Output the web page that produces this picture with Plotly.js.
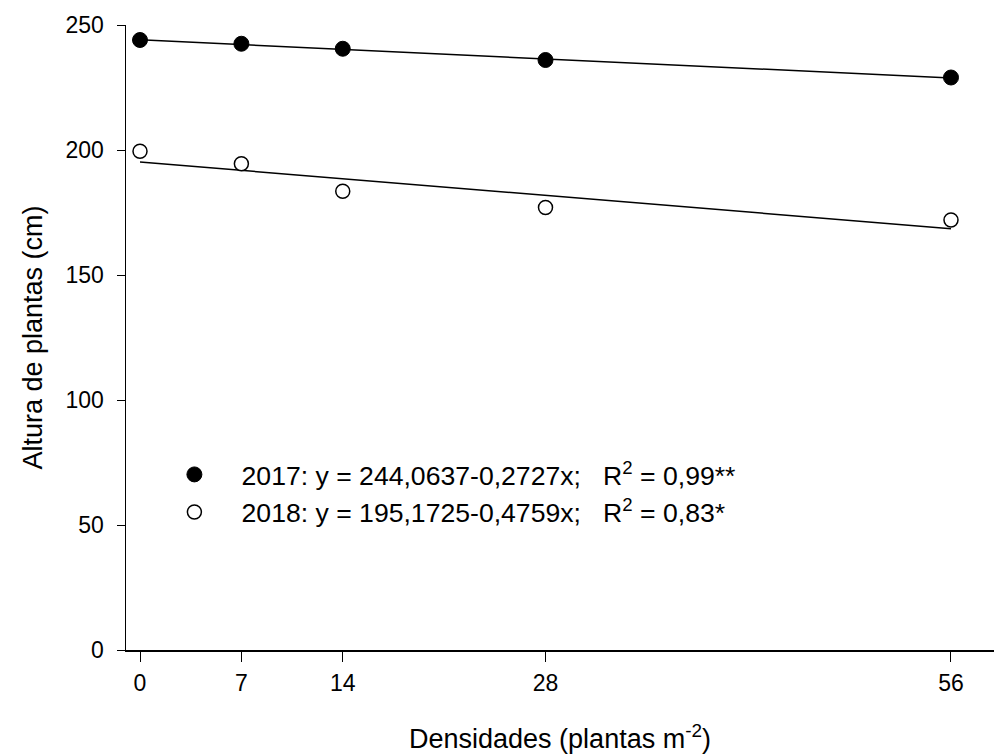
<!DOCTYPE html>
<html>
<head>
<meta charset="utf-8">
<script src="https://cdn.plot.ly/plotly-3.0.1.min.js"></script>
<style>html,body{margin:0;padding:0;background:#fff;}#chart{width:994px;height:754px;}</style>
</head>
<body>
<div id="chart"></div>
<script>
// Data
const densidades = [0, 7, 14, 28, 56];
const altura2017 = [244.0, 242.5, 240.5, 236.0, 229.0];
const altura2018 = [199.5, 194.5, 183.5, 177.0, 172.0];
// Regression coefficients (from the equations shown)
const fit2017 = {a: 244.0637, b: -0.2727};
const fit2018 = {a: 195.1725, b: -0.4759};
const fitX = [0, 56];
const xTicks = [0, 7, 14, 28, 56];
const yTicks = [0, 50, 100, 150, 200, 250];
const label2017 = '2017: y = 244,0637-0,2727x;   R<sup>2</sup> = 0,99**';
const label2018 = '2018: y = 195,1725-0,4759x;   R<sup>2</sup> = 0,83*';

const FONT = 'Arial, "Liberation Sans", sans-serif';
const PAD = '\u00a0\u00a0\u00a0';

const traces = [
  {x: fitX, y: fitX.map(v => fit2017.a + fit2017.b * v), mode: 'lines',
   line: {color: '#000', width: 1.5}, showlegend: false, hoverinfo: 'skip'},
  {x: fitX, y: fitX.map(v => fit2018.a + fit2018.b * v), mode: 'lines',
   line: {color: '#000', width: 1.5}, showlegend: false, hoverinfo: 'skip'},
  {x: densidades, y: altura2017, mode: 'markers', name: PAD + label2017, legendgroup: 'a',
   marker: {symbol: 'circle', size: 15, color: '#000', line: {color: '#000', width: 1}}},
  {x: densidades, y: altura2018, mode: 'markers', name: PAD + label2018, legendgroup: 'b',
   marker: {symbol: 'circle', size: 14, color: '#fff', line: {color: '#000', width: 1.5}}}
];

const layout = {
  width: 994, height: 754,
  margin: {l: 126, r: 0, t: 25, b: 104},
  paper_bgcolor: '#fff', plot_bgcolor: '#fff',
  font: {family: FONT, color: '#000', size: 23},
  showlegend: true,
  legend: {x: 0.05, y: 0.319, xanchor: 'left', yanchor: 'top',
           font: {family: FONT, size: 26.6, color: '#000'},
           bgcolor: 'rgba(0,0,0,0)', traceorder: 'grouped', tracegroupgap: 0,
           itemwidth: 40},
  xaxis: {
    range: [-0.967, 58.97], tickvals: xTicks, ticktext: xTicks.map(String),
    showgrid: false, zeroline: false, showline: true, linecolor: '#000', linewidth: 1.5,
    ticks: 'outside', ticklen: 10, tickwidth: 1, tickcolor: '#000',
    tickfont: {family: FONT, size: 23, color: '#000'}, ticklabelstandoff: 2,
    title: {text: 'Densidades (plantas m<sup>-2</sup>)', font: {family: FONT, size: 27, color: '#000'}, standoff: 34}
  },
  yaxis: {
    range: [0, 250], tickvals: yTicks, ticktext: yTicks.map(String),
    showgrid: false, zeroline: false, showline: true, linecolor: '#000', linewidth: 1.5,
    ticks: 'outside', ticklen: 8, tickwidth: 1, tickcolor: '#000',
    tickfont: {family: FONT, size: 23, color: '#000'}, ticklabelstandoff: 8,
    title: {text: 'Altura de plantas (cm)', font: {family: FONT, size: 27, color: '#000'}, standoff: 15}
  }
};

Plotly.newPlot('chart', traces, layout, {displayModeBar: false, staticPlot: true});
</script>
</body>
</html>
